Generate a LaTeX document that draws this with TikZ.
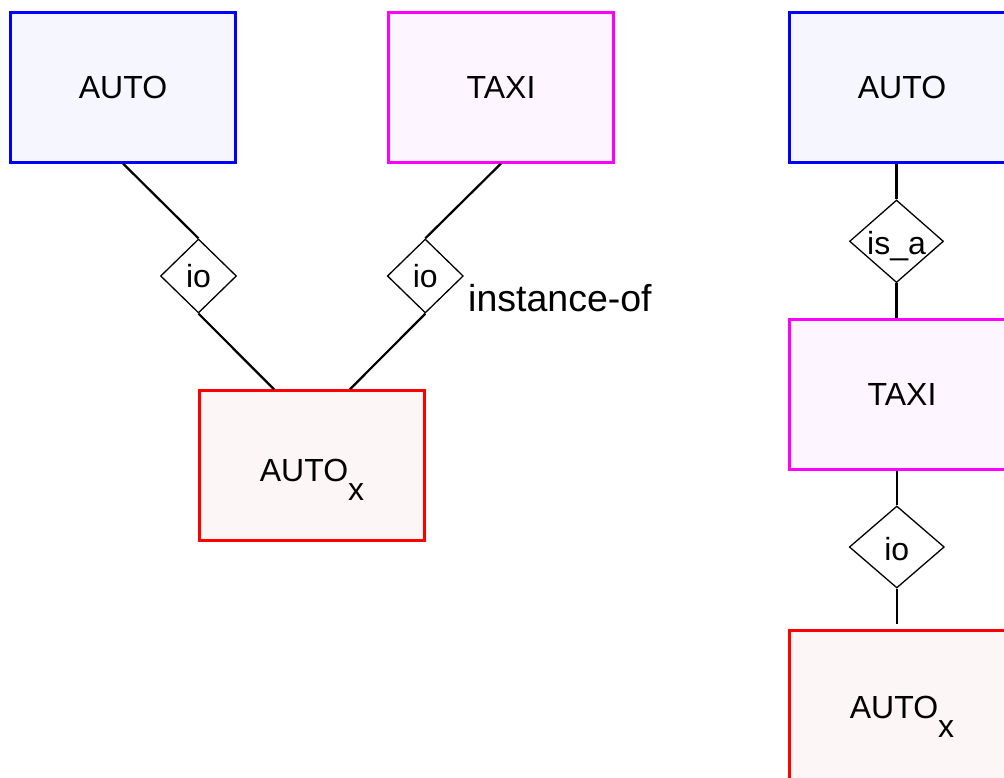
\documentclass[tikz,border=0pt]{standalone}
\usepackage{fontspec}
\setmainfont{Liberation Sans}
\usetikzlibrary{shapes.geometric,calc}
\definecolor{fillA}{RGB}{246,246,255}
\definecolor{fillT}{RGB}{253,245,255}
\definecolor{fillX}{RGB}{253,246,246}
\definecolor{lineA}{RGB}{0,0,255}
\definecolor{lineT}{RGB}{255,0,255}
\definecolor{lineX}{RGB}{255,0,0}
\begin{document}
\begin{tikzpicture}[x=1pt,y=-1pt,
  box/.style={rectangle, draw, line width=3pt, minimum width=225pt, minimum height=149.5pt,
    inner sep=0pt, font=\fontsize{32}{38}\selectfont, text height=23pt, text depth=0pt},
  autobox/.style={box, draw=lineA, fill=fillA},
  taxibox/.style={box, draw=lineT, fill=fillT},
  xbox/.style={box, draw=lineX, fill=fillX},
  rel/.style={shape=diamond, draw, line width=1.3pt, inner sep=0pt,
    minimum width=76pt, minimum height=74pt},
  rellabel/.style={font=\fontsize{32}{38}\selectfont, text height=23pt, text depth=0pt, inner sep=0pt},
  conn/.style={line width=2.2pt}]
\useasboundingbox (0,0) rectangle (1004,778);
\clip (0,0) rectangle (1004,778);
% left part
\node[autobox] (AUTOL) at (123,87.3) {AUTO};
\node[taxibox] (TAXIL) at (501,87.3) {TAXI};
\node[xbox, text height=31pt] (XL) at (312,465.5) {AUTO\raisebox{-19pt}{x}};
\node[rel, label={[rellabel]center:io}] (io1) at (198.5,276) {};
\node[rel, label={[rellabel]center:io}] (io2) at (425.3,276) {};
\node[anchor=base west, inner sep=0pt, font=\fontsize{37.5}{44}\selectfont] (inst) at (468,311) {instance-of};
\draw[conn] (AUTOL.south) -- (io1.north);
\draw[conn] (io1.south) -- ($(XL.north west)!1/3!(XL.north east)$);
\draw[conn] (TAXIL.south) -- (io2.north);
\draw[conn] (io2.south) -- ($(XL.north west)!2/3!(XL.north east)$);
% right part
\node[autobox] (AUTOR) at (902,87.3) {AUTO};
\node[taxibox] (TAXIR) at (902,394.3) {TAXI};
\node[xbox, text height=26pt] (XR) at (902,705.5) {AUTO\raisebox{-19pt}{x}};
\node[rel, minimum width=94pt, minimum height=82.6pt, label={[rellabel, yshift=-2pt]center:is\_a}] (isa) at (896.5,241.3) {};
\node[rel, minimum width=95pt, minimum height=82pt, label={[rellabel, yshift=-1.5pt]center:io}] (ioR) at (896.8,547) {};
\draw[conn] (isa.north) -- (isa.north |- AUTOR.south);
\draw[conn] (isa.south) -- (isa.south |- TAXIR.north);
\draw[conn] (ioR.north) -- (ioR.north |- TAXIR.south);
\draw[conn, shorten >=5pt] (ioR.south) -- (ioR.south |- XR.north);
\end{tikzpicture}
\end{document}
